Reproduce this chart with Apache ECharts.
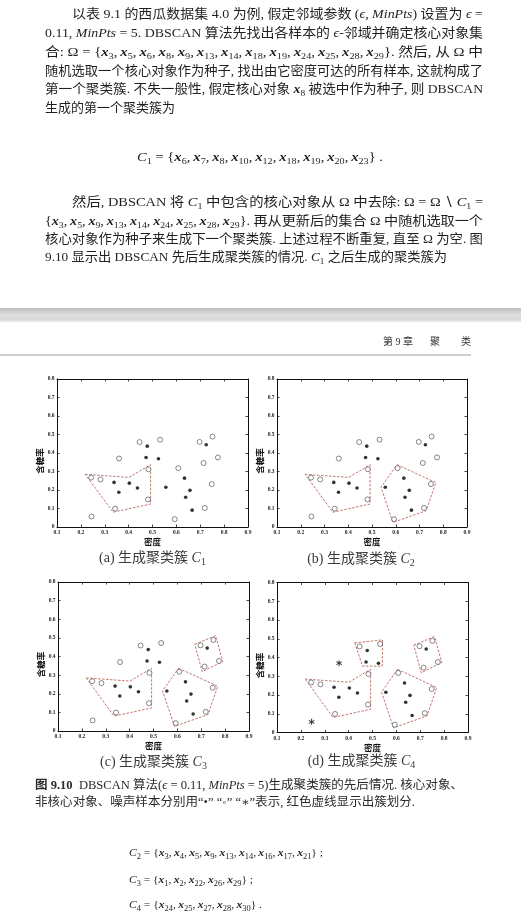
<!DOCTYPE html>
<html><head><meta charset="utf-8">
<script src="https://cdn.jsdelivr.net/npm/echarts@6/dist/echarts.min.js"></script>
<style>html,body{margin:0;padding:0;background:#fff}#c{width:521px;height:918px}</style>
</head><body><div id="c"></div>
<script>
// ---- data: watermelon dataset 4.0 (density, sugar content) ----
const density = [0.697,0.774,0.634,0.608,0.556,0.403,0.481,0.437,0.666,0.243,0.245,0.343,0.639,0.657,0.360,0.593,0.719,0.359,0.339,0.282,0.748,0.714,0.483,0.478,0.525,0.751,0.532,0.473,0.725,0.446];
const sugar   = [0.460,0.376,0.264,0.318,0.215,0.237,0.149,0.211,0.091,0.267,0.057,0.099,0.161,0.198,0.370,0.042,0.103,0.188,0.241,0.257,0.232,0.346,0.312,0.437,0.369,0.489,0.472,0.376,0.445,0.459];
const coreIds  = [3,5,6,8,9,13,14,18,19,24,25,28,29];
const noiseIds = [11,15];
// cluster outlines (density, sugar)
const outlineC1 = [[0.218,0.285],[0.401,0.268],[0.492,0.337],[0.492,0.124],[0.335,0.080]];
const outlineC2 = [[0.605,0.337],[0.769,0.240],[0.728,0.088],[0.588,0.025],[0.538,0.215]];
const outlineC3 = [[0.673,0.466],[0.760,0.512],[0.790,0.373],[0.704,0.318]];
const outlineC4 = [[0.426,0.478],[0.542,0.494],[0.541,0.354],[0.458,0.354]];
const xTickMin = 0.1, xTickMax = 0.9, yTickMin = 0, yTickMax = 0.8, tickStep = 0.1;
const panelLetters = ['a','b','c','d'];

// ---- text ----
const T = s => s.replace(/(x_\d+), /g,'$1,\u2009').replace(/x_(\d+)/g,'{b|x}{s|$1}').replace(/C_(\d)/g,'{i|C}{s|$1}');
const bodyLines = [
  [72, 15, 411, 13, '以表 9.1 的西瓜数据集 4.0 为例, 假定邻域参数 ({i|ϵ}, {i|MinPts}) 设置为 {i|ϵ} ='],
  [45, 34, 438, 13, '0.11, {i|MinPts} = 5. DBSCAN 算法先找出各样本的 {i|ϵ}-邻域并确定核心对象集'],
  [45, 53, 438, 13, '合: Ω = {x_3, x_5, x_6, x_8, x_9, x_13, x_14, x_18, x_19, x_24, x_25, x_28, x_29}. 然后, 从 Ω 中'],
  [45, 72, 438, 13, '随机选取一个核心对象作为种子, 找出由它密度可达的所有样本, 这就构成了'],
  [45, 90, 438, 13, '第一个聚类簇. 不失一般性, 假定核心对象 x_8 被选中作为种子, 则 DBSCAN'],
  [45, 109, null, 13, '生成的第一个聚类簇为'],
  [137, 158, 246, 13, 'C_1 = {x_6, x_7, x_8, x_10, x_12, x_18, x_19, x_20, x_23} .'],
  [72, 203, 411, 13, '然后, DBSCAN 将 C_1 中包含的核心对象从 Ω 中去除: Ω = Ω ∖ C_1 ='],
  [45, 222, 438, 13, '{x_3, x_5, x_9, x_13, x_14, x_24, x_25, x_28, x_29}. 再从更新后的集合 Ω 中随机选取一个'],
  [45, 240, 438, 13, '核心对象作为种子来生成下一个聚类簇. 上述过程不断重复, 直至 Ω 为空. 图'],
  [45, 258, 402, 13, '9.10 显示出 DBSCAN 先后生成聚类簇的情况. C_1 之后生成的聚类簇为'],
  [129, 853, 194, 11, 'C_2 = {x_3, x_4, x_5, x_9, x_13, x_14, x_16, x_17, x_21} ;'],
  [129, 880, 124, 11, 'C_3 = {x_1, x_2, x_22, x_26, x_29} ;'],
  [129, 905, 133, 11, 'C_4 = {x_24, x_25, x_27, x_28, x_30} .']
];
const captionLines = [
  [35, 786, 428, 12, '{h|图 9.10}  DBSCAN 算法({i|ϵ} = 0.11, {i|MinPts} = 5)生成聚类簇的先后情况. 核心对象、'],
  [35, 803, 380, 12, '非核心对象、噪声样本分别用“•” “◦” “∗”表示, 红色虚线显示出簇划分.']
];

const FAM = "'Liberation Serif','DejaVu Serif','Noto Sans CJK SC',serif";
const ctx = document.createElement('canvas').getContext('2d');
function fontStr(st){ return [st.fontStyle||'normal', st.fontWeight||'normal', st.fontSize+'px', st.fontFamily].join(' '); }
function styles(S, color){
  const L = S + 4;
  return {
    base:{fontSize:S, fontFamily:FAM, fill:color, lineHeight:L},
    rich:{
      i:{fontSize:S, fontFamily:FAM, fontStyle:'italic', fill:color, lineHeight:L},
      b:{fontSize:S, fontFamily:FAM, fontStyle:'italic', fontWeight:'bold', fill:color, lineHeight:L},
      h:{fontSize:S, fontFamily:FAM, fontWeight:'bold', fill:color, lineHeight:L},
      s:{fontSize:Math.round(S*0.7), fontFamily:FAM, fill:color, lineHeight:L, verticalAlign:'bottom'}
    }
  };
}
function measure(str, st){
  const re=/\{([a-zA-Z0-9_]+)\|([^}]*)\}/g; let last=0, m, w=0;
  const add=(s,t)=>{ ctx.font=fontStr(s); w+=ctx.measureText(t).width; };
  while((m=re.exec(str))){ if(m.index>last) add(st.base,str.slice(last,m.index)); add(st.rich[m[1]]||st.base,m[2]); last=re.lastIndex; }
  if(last<str.length) add(st.base,str.slice(last));
  return w;
}
function textEl(x, y, target, raw, S, color, align){
  const st = styles(S, color);
  const text = T(raw);
  let sx = 1;
  if (target) sx = target / measure(text, st);
  return {type:'text', x:x, y:y, scaleX:sx, silent:true, z:10,
    style:Object.assign({text:text, rich:st.rich, align:align||'left', verticalAlign:'middle'}, st.base)};
}

const graphic = [];
// gray gap between two pages
graphic.push({type:'rect', shape:{x:0,y:308,width:521,height:14}, silent:true,
  style:{fill:{type:'linear',x:0,y:0,x2:0,y2:1,colorStops:[
    {offset:0,color:'#bdbdbd'},{offset:0.25,color:'#cdcdcd'},{offset:0.5,color:'#e0e0e0'},{offset:0.8,color:'#d8d8d8'},{offset:1,color:'#eaeaea'}]}}});
// running header
graphic.push({type:'line', shape:{x1:0,y1:355,x2:471,y2:355}, silent:true, style:{stroke:'#9c9c9c', lineWidth:1}});
graphic.push({type:'text', x:383, y:342, silent:true, style:{text:'第 9 章', fontSize:10, fontFamily:FAM, fill:'#333', verticalAlign:'middle'}});
graphic.push({type:'text', x:430, y:342, silent:true, style:{text:'聚', fontSize:10, fontFamily:FAM, fill:'#333', verticalAlign:'middle'}});
graphic.push({type:'text', x:461, y:342, silent:true, style:{text:'类', fontSize:10, fontFamily:FAM, fill:'#333', verticalAlign:'middle'}});
bodyLines.forEach(l => graphic.push(textEl(l[0], l[1], l[2], l[4], l[3], '#1f1f1f')));
captionLines.forEach(l => graphic.push(textEl(l[0], l[1], l[2], l[4], l[3], '#2a2a2a')));

// ---- panels ----
const grids = [
  {left:57, top:379, width:191, height:148},
  {left:277, top:379, width:190, height:148},
  {left:58, top:582, width:191, height:149},
  {left:277, top:582.5, width:191, height:150}
];
const captionPos = [[152.5,558],[361,559],[153.5,762.5],[361.5,761.5]];
const STAR = 'path://M4.2,0L5.8,0L5.8,10L4.2,10Z M0.27,3.193L1.07,1.807L9.73,6.807L8.93,8.193Z M8.93,1.807L9.73,3.193L1.07,8.193L0.27,6.807Z';
const outlines = [outlineC1, outlineC2, outlineC3, outlineC4];
const allIds = density.map((_, k) => k + 1);
const pts = ids => ids.map(id => [density[id-1], sugar[id-1]]);

const lblStyle = {fontSize:5.5, fontWeight:'bold', fontFamily:"'Liberation Serif',serif", color:'#222'};
const nameStyle = {fontSize:8.5, fontWeight:'bold', fontFamily:"'Noto Sans CJK SC',sans-serif", color:'#111'};
const lineSt = {show:true, onZero:false, lineStyle:{color:'#111', width:1}};
const tickSt = {show:true, inside:true, length:2.5, lineStyle:{color:'#111', width:0.8}};
const xAxis = [], yAxis = [], series = [];
grids.forEach((g, p) => {
  xAxis.push({gridIndex:p, type:'value', min:xTickMin, max:xTickMax, interval:tickStep, position:'bottom',
    name:'密度', nameLocation:'middle', nameGap:11, nameTextStyle:nameStyle,
    axisLine:lineSt, axisTick:tickSt, splitLine:{show:false},
    axisLabel:Object.assign({margin:3, formatter:v => v.toFixed(1)}, lblStyle)});
  xAxis.push({gridIndex:p, type:'value', min:xTickMin, max:xTickMax, interval:tickStep, position:'top',
    axisLine:lineSt, axisTick:tickSt, splitLine:{show:false}, axisLabel:{show:false}});
  yAxis.push({gridIndex:p, type:'value', min:yTickMin, max:yTickMax, interval:tickStep, position:'left',
    name:'含糖率', nameLocation:'middle', nameGap:13, nameRotate:90,
    nameTextStyle:Object.assign({padding:[0,16,0,0]}, nameStyle),
    axisLine:lineSt, axisTick:tickSt, splitLine:{show:false},
    axisLabel:Object.assign({margin:2.5, formatter:v => v === 0 ? '0' : v.toFixed(1)}, lblStyle)});
  yAxis.push({gridIndex:p, type:'value', min:yTickMin, max:yTickMax, interval:tickStep, position:'right',
    axisLine:lineSt, axisTick:tickSt, splitLine:{show:false}, axisLabel:{show:false}});
  const xi = 2*p, yi = 2*p;
  for (let k = 0; k <= p; k++) {
    series.push({type:'line', xAxisIndex:xi, yAxisIndex:yi, data:outlines[k].concat([outlines[k][0]]),
      symbol:'none', silent:true, z:2, lineStyle:{color:'#c27670', width:1, type:[2.5,1.5]}});
  }
  const noise = p === 3 ? noiseIds : [];
  const hollow = allIds.filter(id => !coreIds.includes(id) && !noise.includes(id));
  series.push({type:'scatter', xAxisIndex:xi, yAxisIndex:yi, data:pts(hollow), symbol:'circle', symbolSize:5,
    z:3, itemStyle:{color:'#fff', borderColor:'#444', borderWidth:0.8}});
  series.push({type:'scatter', xAxisIndex:xi, yAxisIndex:yi, data:pts(coreIds), symbol:'circle', symbolSize:3.6,
    z:4, itemStyle:{color:'#000'}});
  if (noise.length) series.push({type:'scatter', xAxisIndex:xi, yAxisIndex:yi, data:pts(noise), symbol:STAR,
    symbolSize:6, z:4, itemStyle:{color:'#000'}});
  graphic.push(textEl(captionPos[p][0], captionPos[p][1], null, '(' + panelLetters[p] + ') 生成聚类簇 C_' + (p+1), 14, '#3a3a3a', 'center'));
});

const chart = echarts.init(document.getElementById('c'), null, {renderer:'canvas'});
chart.setOption({
  animation:false,
  backgroundColor:'#ffffff',
  grid:grids,
  xAxis:xAxis, yAxis:yAxis, series:series, graphic:graphic
});
</script></body></html>
